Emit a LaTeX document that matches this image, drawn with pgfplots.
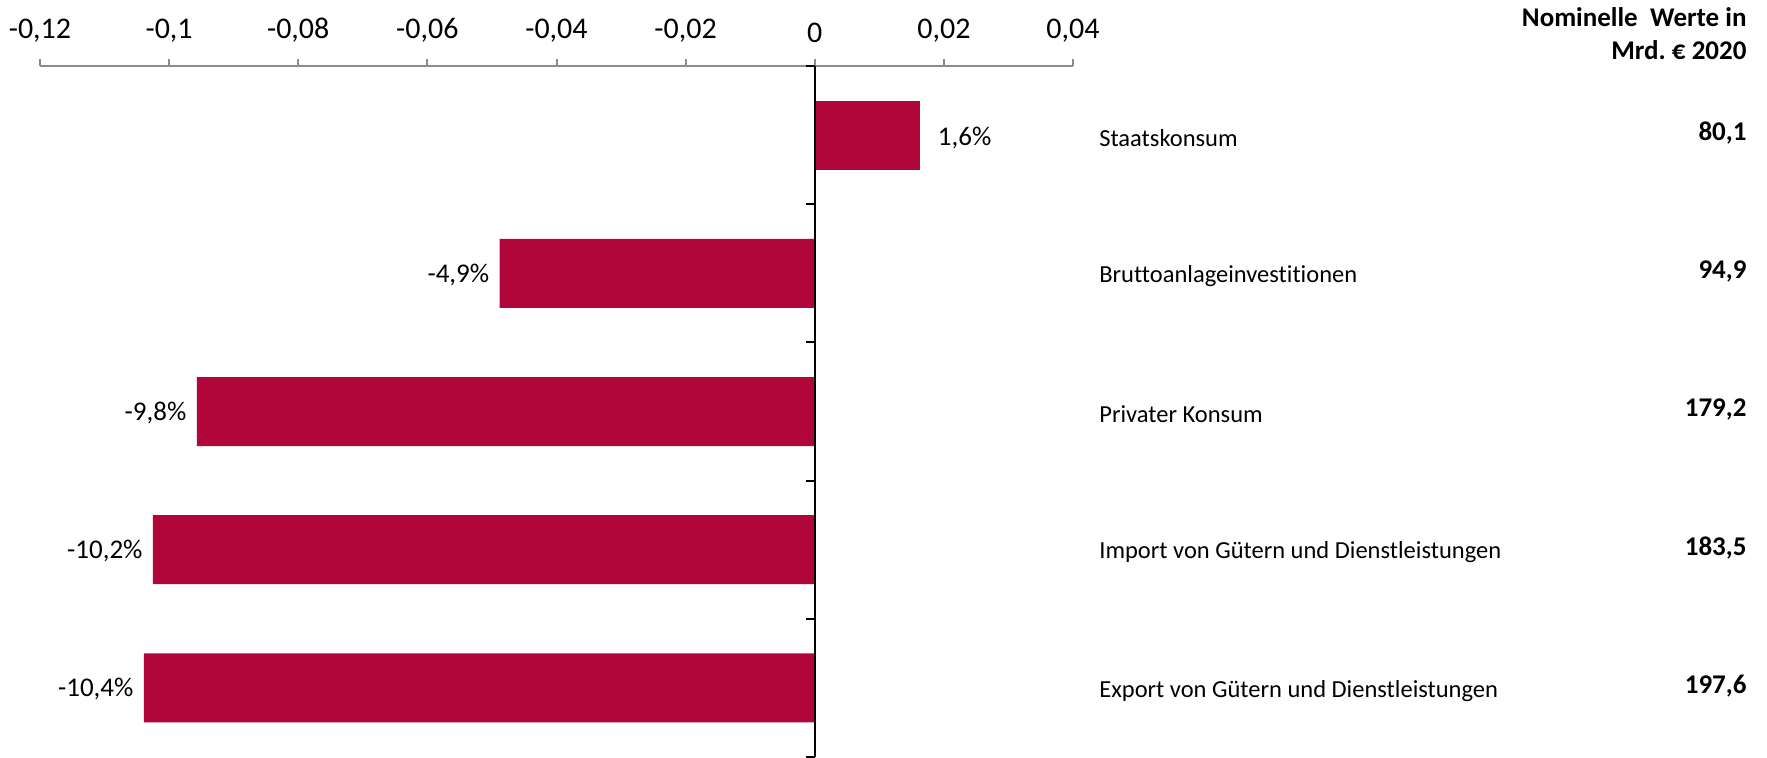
\documentclass[border=0pt]{standalone}
\usepackage{fontspec}
\setmainfont{Carlito}[Ligatures=NoCommon]
\usepackage{pgfplots}
\pgfplotsset{compat=1.18}
\usepackage{pgfplotstable}

\definecolor{barred}{RGB}{176,6,58}
\definecolor{axgray}{RGB}{140,140,140}

% x = change (bar length as drawn), y = position (0 = bottom), lab = printed label
\pgfplotstableread{
x       y  lab
0.0163  4  1,6
}\positive
\pgfplotstableread{
x       y  lab
-0.0488 3  -4,9
-0.0957 2  -9,8
-0.1025 1  -10,2
-0.1039 0  -10,4
}\negative

\newcommand\lbl{\fontsize{10.8}{13}\selectfont}
\newcommand\cat{\fontsize{9.8}{12}\selectfont}

\begin{document}
\begin{tikzpicture}[font=\fontsize{12}{14}\selectfont]
\path[use as bounding box] (0,0) rectangle (706.8pt,302.8pt);
\begin{axis}[
    at={(16pt,0pt)}, anchor=south west,
    scale only axis, width=413.2pt, height=276.4pt,
    xmin=-0.12, xmax=0.04, ymin=-0.5, ymax=4.5,
    axis x line=top, axis y line=none,
    x axis line style={-, axgray, line width=0.8pt},
    xtick={-0.12,-0.1,-0.08,-0.06,-0.04,-0.02,0,0.02,0.04},
    scaled x ticks=false,
    xtick align=outside,
    x tick style={axgray, line width=0.8pt},
    major tick length=2.8pt,
    xticklabel style={yshift=3pt},
    /pgf/number format/.cd, fixed, precision=2, use comma, 1000 sep={}, assume math mode=true,
    /pgfplots/.cd,
    clip=false,
    xbar, bar width=27.6pt, bar shift=0pt,
    point meta=explicit symbolic,
    nodes near coords={\pgfplotspointmeta\%},
]
\addplot[fill=barred, draw=none,
    every node near coord/.append style={black, inner sep=4pt, font=\lbl, anchor=west, xshift=3pt, yshift=-1pt}]
    table[x=x, y=y, meta=lab] {\positive};
\addplot[fill=barred, draw=none,
    every node near coord/.append style={black, inner sep=4pt, font=\lbl, anchor=east, yshift=-0.5pt}]
    table[x=x, y=y, meta=lab] {\negative};

% vertical axis at zero with separator ticks
\draw[black, line width=0.8pt] (axis cs:0,-0.5) -- (axis cs:0,4.5);
\pgfplotsinvokeforeach{-0.5,0.5,1.5,2.5,3.5,4.5}{
  \draw[black, line width=0.8pt] (axis cs:0,#1) -- ([xshift=-3.6pt]axis cs:0,#1);
}

% category names
\node[anchor=west, inner sep=0pt, yshift=-1.1pt, font=\cat] at (axis cs:0.044,4) {Staatskonsum};
\node[anchor=west, inner sep=0pt, yshift=-1.1pt, font=\cat] at (axis cs:0.044,3) {Bruttoanlageinvestitionen};
\node[anchor=west, inner sep=0pt, yshift=-1.1pt, font=\cat] at (axis cs:0.044,2) {Privater Konsum};
\node[anchor=west, inner sep=0pt, yshift=-1.1pt, font=\cat] at (axis cs:0.044,1) {Import von Gütern und Dienstleistungen};
\node[anchor=west, inner sep=0pt, yshift=-1.1pt, font=\cat] at (axis cs:0.044,0) {Export von Gütern und Dienstleistungen};

% nominal values
\node[anchor=east, inner sep=0pt, font=\lbl\bfseries, yshift=0.8pt] at (axis cs:0.1444,4) {80,1};
\node[anchor=east, inner sep=0pt, font=\lbl\bfseries, yshift=0.8pt] at (axis cs:0.1444,3) {94,9};
\node[anchor=east, inner sep=0pt, font=\lbl\bfseries, yshift=0.8pt] at (axis cs:0.1444,2) {179,2};
\node[anchor=east, inner sep=0pt, font=\lbl\bfseries, yshift=0.8pt] at (axis cs:0.1444,1) {183,5};
\node[anchor=east, inner sep=0pt, font=\lbl\bfseries, yshift=0.8pt] at (axis cs:0.1444,0) {197,6};

\node[anchor=east, inner sep=0pt, align=right, font=\fontsize{10.8}{13.2}\selectfont\bfseries] at (axis cs:0.1444,4.735) {Nominelle\ \ Werte in\\Mrd.\ € 2020};
\end{axis}
\end{tikzpicture}
\end{document}
